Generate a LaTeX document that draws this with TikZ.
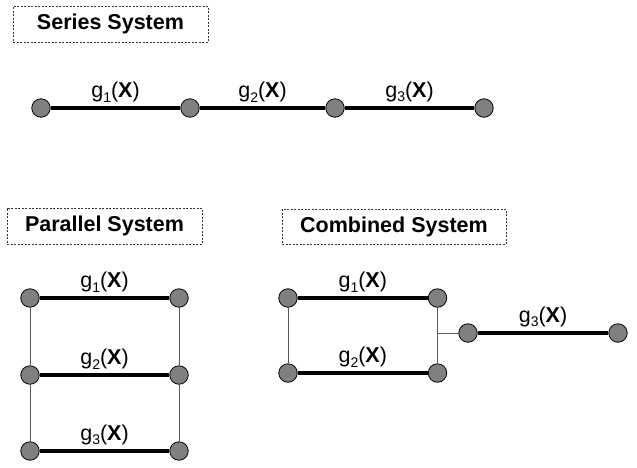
\documentclass[tikz,border=0pt]{standalone}
\usepackage{fontspec}
\setmainfont{Liberation Sans}
\newcommand{\gx}[1]{g\raisebox{-0.22em}{\fontsize{14}{14}\selectfont #1}(\textbf{X})}
\begin{document}
\begin{tikzpicture}[x=1pt,y=-1pt,
  dot/.style={circle,draw=black,fill=black!50,line width=0.8pt,minimum size=18.5pt,inner sep=0pt},
  thickl/.style={line width=3.8pt,black},
  thinl/.style={line width=1pt,black!65},
  title/.style={draw=black!80,dash pattern=on 2pt off 1.5pt,line width=0.6pt,inner sep=0pt,font=\fontsize{21.5}{24}\selectfont\bfseries},
  lab/.style={font=\fontsize{21.5}{24}\selectfont,inner sep=1pt}]
\useasboundingbox (0,0) rectangle (637,467);
% titles
\node[title,minimum width=195pt,minimum height=36pt] (ts) at (110.5,24) {Series System};
\node[title,minimum width=195pt,minimum height=36pt] (tp) at (104.5,226) {Parallel System};
\node[title,minimum width=224pt,minimum height=35pt] (tc) at (394,226.5) {Combined System};
% series
\node[dot] (s1) at (41,108) {};
\node[dot] (s2) at (190,108) {};
\node[dot] (s3) at (335,108) {};
\node[dot] (s4) at (484,108) {};
\draw[thickl] (s1) -- (s2) node[midway,above=3pt,lab] (ls1) {\gx{1}};
\draw[thickl] (s2) -- (s3) node[midway,above=3pt,lab] (ls2) {\gx{2}};
\draw[thickl] (s3) -- (s4) node[midway,above=3pt,lab] (ls3) {\gx{3}};
% parallel
\node[dot] (p1l) at (30,298) {};
\node[dot] (p1r) at (179,298) {};
\node[dot] (p2l) at (30,375) {};
\node[dot] (p2r) at (179,375) {};
\node[dot] (p3l) at (30,451) {};
\node[dot] (p3r) at (179,451) {};
\draw[thinl] (p1l) -- (p2l) (p2l) -- (p3l) (p1r) -- (p2r) (p2r) -- (p3r);
\draw[thickl] (p1l) -- (p1r) node[midway,above=3pt,lab] (lp1) {\gx{1}};
\draw[thickl] (p2l) -- (p2r) node[midway,above=3pt,lab] (lp2) {\gx{2}};
\draw[thickl] (p3l) -- (p3r) node[midway,above=3pt,lab] (lp3) {\gx{3}};
% combined
\node[dot] (c1l) at (288,298) {};
\node[dot] (c1r) at (437.5,298) {};
\node[dot] (c2l) at (288,373) {};
\node[dot] (c2r) at (437.5,373) {};
\node[dot] (c3l) at (468,333) {};
\node[dot] (c3r) at (618,333) {};
\coordinate (cj) at (437.5,333);
\draw[thinl] (c1l) -- (c2l) (c1r) -- (c2r) (cj) -- (c3l);
\draw[thickl] (c1l) -- (c1r) node[midway,above=3pt,lab] (lc1) {\gx{1}};
\draw[thickl] (c2l) -- (c2r) node[midway,above=3pt,lab] (lc2) {\gx{2}};
\draw[thickl] (c3l) -- (c3r) node[midway,above=3pt,lab] (lc3) {\gx{3}};
\end{tikzpicture}
\end{document}
